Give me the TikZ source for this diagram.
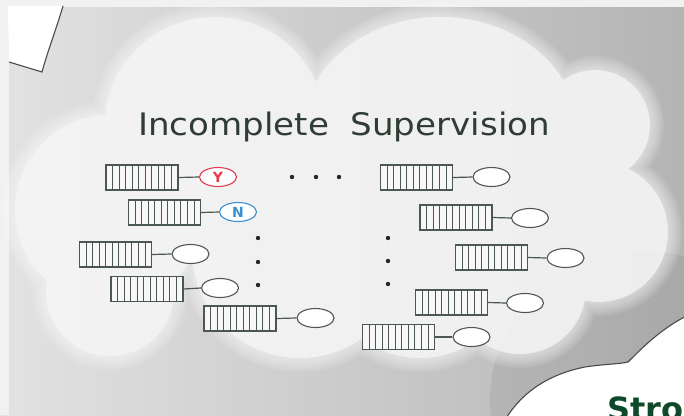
\documentclass[tikz,border=0pt]{standalone}
\usepackage{fontspec}
\setmainfont{DejaVu Sans}
\usetikzlibrary{shapes.geometric}

\definecolor{panelL}{HTML}{E2E2E2}
\definecolor{panelR}{HTML}{B4B4B4}
\definecolor{stripe}{HTML}{F1F1F1}
\definecolor{boxline}{HTML}{4A584F}
\definecolor{ringline}{HTML}{505553}
\definecolor{titlecol}{HTML}{2F3D35}
\definecolor{yescol}{HTML}{E8384F}
\definecolor{nocol}{HTML}{3A8FD0}
\definecolor{strongcol}{HTML}{0E4A2A}
\definecolor{edgecol}{HTML}{4A4A4A}

\tikzset{
  vecbox/.style={draw=boxline, line width=1.1pt, fill=stripe!60!white,
    minimum width=72pt, minimum height=25pt, inner sep=0pt,
    path picture={
      \foreach \i in {1,...,10}{
        \draw[boxline, line width=0.9pt]
          ([xshift=\i*6.545pt]path picture bounding box.south west) --
          ([xshift=\i*6.545pt]path picture bounding box.north west);
      }}},
  ring/.style={ellipse, draw=ringline, line width=1.1pt, fill=white,
    minimum width=37pt, minimum height=19pt, inner sep=0pt,
    font=\fontsize{14}{14}\selectfont\bfseries},
  link/.style={draw=boxline, line width=1.2pt},
  dotmark/.style={circle, fill=black!85, inner sep=0pt, minimum size=4.4pt},
  edge/.style={draw=edgecol, line width=1.1pt},
}

% cloud outline as a union of discs; #1 widens every disc
\newcommand\cloudblob[1]{%
  (215,125) ellipse[x radius=110+#1, y radius=108+#1]
  (440,132) ellipse[x radius=138+#1, y radius=115+#1]
  (595,125) circle[radius=55+#1]
  (598,232) circle[radius=70+#1]
  (520,288) circle[radius=66+#1]
  (110,210) circle[radius=95+#1]
  (110,292) circle[radius=64+#1]
  (300,250) circle[radius=108+#1]
  (420,262) circle[radius=96+#1]}

\begin{document}
\begin{tikzpicture}[x=1pt, y=-1pt]
\useasboundingbox (0,0) rectangle (684,415);
\clip (0,0) rectangle (684,415);

% backdrop
\shade[left color=panelL, right color=panelR] (0,0) rectangle (684,415);
\fill[black, opacity=0.06] (640,400) circle[radius=150];
\fill[stripe] (0,0) rectangle (684,7);
\fill[stripe] (0,0) rectangle (9,415);

% soft white cloud, edge faded over a few layers
\foreach \d in {14,12,10,8,6,4,2}{
  \fill[white, fill opacity=0.09] \cloudblob{\d};
}
\fill[white!96!black, fill opacity=0.8] \cloudblob{0};

% corner piece of the neighbouring cloud (top left)
\fill[white] (8,6) -- (63,6) .. controls (56,30) and (48,50) .. (42,72) -- (9,62) -- cycle;
\draw[edge] (63,6) .. controls (56,30) and (48,50) .. (42,72) -- (9,62);

% neighbouring cloud (bottom right)
\fill[white] (505,420) .. controls (520,395) and (545,375) .. (585,367)
  .. controls (605,364) and (620,364) .. (628,362)
  .. controls (645,345) and (665,325) .. (695,312) -- (695,420) -- cycle;
\draw[edge] (505,420) .. controls (520,395) and (545,375) .. (585,367)
  .. controls (605,364) and (620,364) .. (628,362)
  .. controls (645,345) and (665,325) .. (695,312);
\node[anchor=base west, text=strongcol, inner sep=0pt,
      font=\fontsize{32}{32}\selectfont\bfseries] (strong) at (607,420) {Stro};

% title
\node[anchor=base, text=titlecol, inner sep=0pt,
      font=\fontsize{31}{31}\selectfont] (title) at (344,135)
      {\scalebox{1.1}[1]{Incomplete\ \ Supervision}};

% labelled and unlabelled instances, left group
\node[vecbox] (l1) at (142,177.5) {};
\node[ring, draw=yescol, text=yescol] (r1) at (218,177) {Y};
\node[vecbox] (l2) at (164.5,212.5) {};
\node[ring, draw=nocol, text=nocol] (r2) at (238,212) {N};
\node[vecbox] (l3) at (115.5,254.5) {};
\node[ring] (r3) at (190.5,254) {};
\node[vecbox] (l4) at (147,289) {};
\node[ring] (r4) at (220,288) {};
\node[vecbox] (l5) at (240,318.5) {};
\node[ring] (r5) at (315.5,318) {};

% right group
\node[vecbox] (l6) at (416.5,177.5) {};
\node[ring] (r6) at (491.5,177) {};
\node[vecbox] (l7) at (456,217.5) {};
\node[ring] (r7) at (530,218) {};
\node[vecbox] (l8) at (491.5,257.5) {};
\node[ring] (r8) at (565.5,258) {};
\node[vecbox] (l9) at (451.5,302.5) {};
\node[ring] (r9) at (525,303) {};
\node[vecbox] (l10) at (398.5,337) {};
\node[ring] (r10) at (471.5,337) {};

\foreach \i in {1,...,10}{ \draw[link] (l\i.east) -- (r\i.west); }

% ellipsis dots
\node[dotmark] (h1) at (292,177) {};
\node[dotmark] (h2) at (316,177) {};
\node[dotmark] (h3) at (339,177) {};
\node[dotmark] (a1) at (258,238) {};
\node[dotmark] (a2) at (258,262) {};
\node[dotmark] (a3) at (258,285) {};
\node[dotmark] (b1) at (388,238) {};
\node[dotmark] (b2) at (388,261) {};
\node[dotmark] (b3) at (388,284) {};
\end{tikzpicture}
\end{document}
